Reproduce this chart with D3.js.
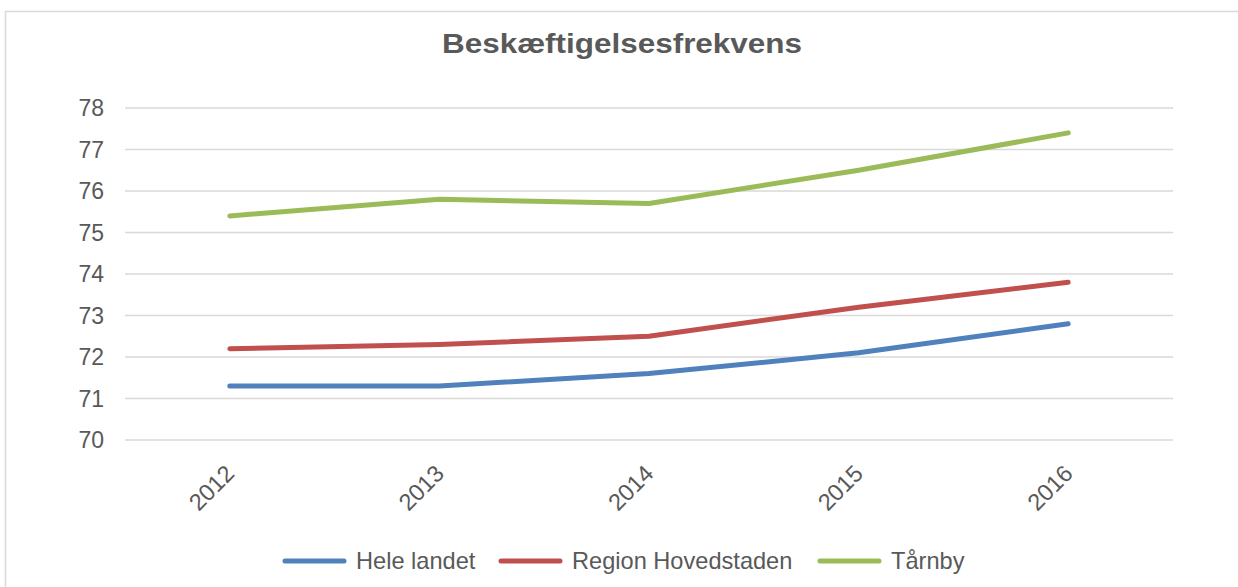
<!DOCTYPE html>
<html>
<head>
<meta charset="utf-8">
<script src="https://cdn.jsdelivr.net/npm/d3@7"></script>
<style>
  body { margin: 0; background: #fff; }
  text { font-family: "Liberation Sans", Arial, sans-serif; fill: #595959; }
</style>
</head>
<body>
<svg width="1238" height="587"></svg>
<script>
var years = ['2012', '2013', '2014', '2015', '2016'];
var seriesNames = ['Hele landet', 'Region Hovedstaden', 'Tårnby'];
var heleLandet = [71.3, 71.3, 71.6, 72.1, 72.8];
var regionHovedstaden = [72.2, 72.3, 72.5, 73.2, 73.8];
var taarnby = [75.4, 75.8, 75.7, 76.5, 77.4];
var yTicks = [70, 71, 72, 73, 74, 75, 76, 77, 78];
var colors = ['#4f81bd', '#c0504d', '#9bbb59'];

var series = [heleLandet, regionHovedstaden, taarnby];

var svg = d3.select('svg');

// chart border
svg.append('rect')
    .attr('x', 5.5)
    .attr('y', 11.5)
    .attr('width', 1240)
    .attr('height', 600)
    .attr('fill', 'none')
    .attr('stroke', '#d9d9d9')
    .attr('stroke-width', 1.5);

var scaleX = d3.scaleBand().domain(years).range([125, 1173]);
var scaleY = d3.scaleLinear().domain([70, 78]).range([440, 108]);

// gridlines
svg.selectAll('.grid')
    .data(yTicks)
    .enter()
    .append('line')
    .attr('x1', 125)
    .attr('x2', 1173)
    .attr('y1', function(d){ return scaleY(d); })
    .attr('y2', function(d){ return scaleY(d); })
    .attr('stroke', '#d9d9d9')
    .attr('stroke-width', 1.5);

// y labels
svg.selectAll('.ylab')
    .data(yTicks)
    .enter()
    .append('text')
    .attr('x', 104)
    .attr('y', function(d){ return scaleY(d); })
    .attr('dy', '0.36em')
    .attr('text-anchor', 'end')
    .attr('font-size', 23)
    .text(function(d){ return d; });

// x labels
svg.selectAll('.xlab')
    .data(years)
    .enter()
    .append('text')
    .attr('transform', function(d){
        return 'translate(' + (scaleX(d) + scaleX.bandwidth() / 2 + 6) + ',475) rotate(-45)';
    })
    .attr('text-anchor', 'end')
    .attr('font-size', 23.5)
    .text(function(d){ return d; });

var line = d3.line()
    .x(function(d, i){ return scaleX(years[i]) + scaleX.bandwidth() / 2; })
    .y(function(d){ return scaleY(d); });

svg.selectAll('.series')
    .data(series)
    .enter()
    .append('path')
    .attr('d', line)
    .attr('fill', 'none')
    .attr('stroke', function(d, i){ return colors[i]; })
    .attr('stroke-width', 5)
    .attr('stroke-linecap', 'round')
    .attr('stroke-linejoin', 'round');

// title
svg.append('text')
    .attr('x', 622)
    .attr('y', 53)
    .attr('text-anchor', 'middle')
    .attr('font-size', 28)
    .attr('font-weight', 'bold')
    .attr('textLength', 360)
    .attr('lengthAdjust', 'spacingAndGlyphs')
    .text('Beskæftigelsesfrekvens');

// legend
var legendX = [285, 501, 820];
var legend = svg.selectAll('.legend')
    .data(seriesNames)
    .enter()
    .append('g')
    .attr('transform', function(d, i){ return 'translate(' + legendX[i] + ',561)'; });

legend.append('line')
    .attr('x1', 0)
    .attr('x2', 59)
    .attr('stroke', function(d, i){ return colors[i]; })
    .attr('stroke-width', 5)
    .attr('stroke-linecap', 'round');

legend.append('text')
    .attr('x', 71)
    .attr('y', 8)
    .attr('font-size', 23.6)
    .text(function(d){ return d; });
</script>
</body>
</html>
